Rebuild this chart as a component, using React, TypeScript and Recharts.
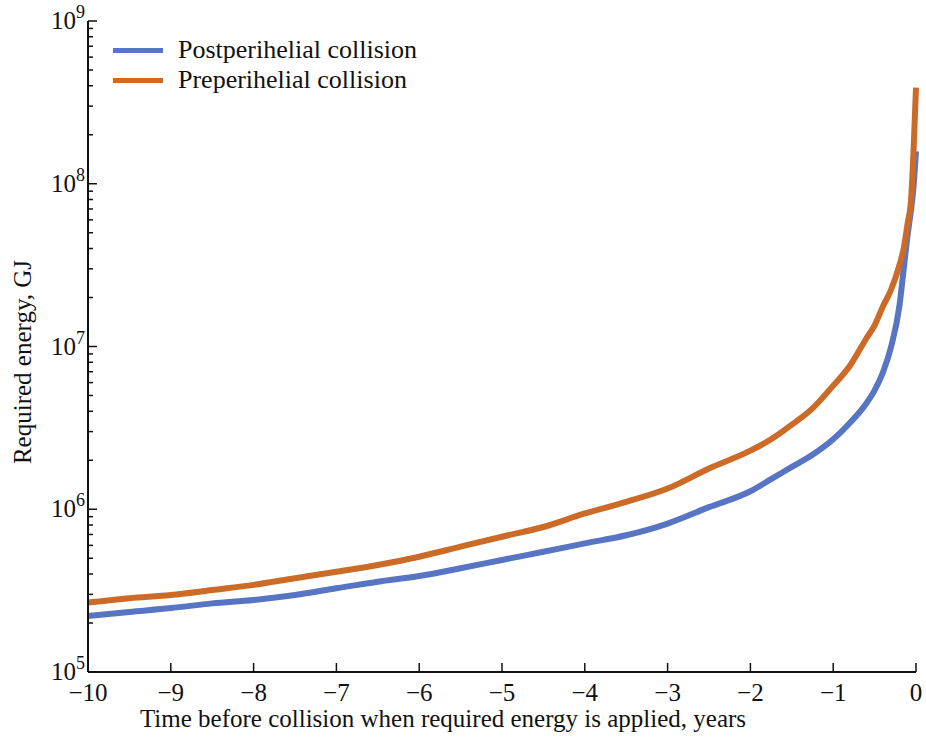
import React from 'react';
import { LineChart, Line, XAxis, YAxis, Legend } from 'recharts';

// Time before collision, years
const years = [
  -10, -9.5, -9, -8.5, -8, -7.5, -7, -6.5, -6, -5.5, -5, -4.5, -4, -3.5, -3, -2.5,
  -2, -1.75, -1.5, -1.25, -1, -0.8, -0.6, -0.5, -0.4, -0.3, -0.2, -0.15, -0.1, -0.06, -0.03, 0,
];

// Required energy, GJ — collision after perihelion
const postperihelial = [
  2.21e5, 2.34e5, 2.47e5, 2.64e5, 2.77e5, 2.97e5, 3.27e5, 3.59e5, 3.89e5, 4.34e5, 4.88e5, 5.48e5,
  6.17e5, 6.92e5, 8.17e5, 1.03e6, 1.29e6, 1.53e6, 1.82e6, 2.16e6, 2.69e6, 3.39e6, 4.47e6, 5.37e6,
  6.92e6, 1.0e7, 1.78e7, 2.95e7, 4.9e7, 6.92e7, 9.55e7, 1.58e8,
];

// Required energy, GJ — collision before perihelion
const preperihelial = [
  2.67e5, 2.84e5, 2.97e5, 3.19e5, 3.43e5, 3.77e5, 4.13e5, 4.54e5, 5.11e5, 5.89e5, 6.78e5, 7.78e5,
  9.42e5, 1.11e6, 1.34e6, 1.78e6, 2.29e6, 2.69e6, 3.31e6, 4.17e6, 5.75e6, 7.59e6, 1.12e7, 1.35e7,
  1.76e7, 2.24e7, 3.16e7, 3.98e7, 5.75e7, 7.94e7, 1.58e8, 3.89e8,
];

const seriesNames = ['Postperihelial collision', 'Preperihelial collision'];
const yearTicks = [-10, -9, -8, -7, -6, -5, -4, -3, -2, -1, 0];
const decadeExponents = [5, 6, 7, 8, 9];
const minorMultipliers = [2, 3, 4, 5, 6, 7, 8, 9];

const energyTicks: number[] = [];
decadeExponents.forEach((e, i) => {
  energyTicks.push(Math.pow(10, e));
  if (i < decadeExponents.length - 1) {
    minorMultipliers.forEach((m) => energyTicks.push(m * Math.pow(10, e)));
  }
});

const data = years.map((t, i) => ({ t, post: postperihelial[i], pre: preperihelial[i] }));

const BLUE = '#5875C4';
const ORANGE = '#CC6A28';
const INK = '#111111';
const FONT = '"Liberation Serif", "Times New Roman", Times, serif';

const isMajor = (v: number) => {
  const e = Math.round(Math.log10(v));
  return Math.abs(v - Math.pow(10, e)) < v * 1e-6;
};

const fmtYear = (v: number) => (v < 0 ? `\u2212${Math.abs(v)}` : `${v}`);

// Inward-pointing ticks with labels below the frame
function BottomTick(props: any) {
  const { x, y, payload } = props;
  return (
    <g>
      <line x1={x} y1={y} x2={x} y2={y - 9} stroke={INK} strokeWidth={1.5} />
      <text x={x} y={y + 29} textAnchor="middle" fontFamily={FONT} fontSize={25} fill={INK}>
        {fmtYear(payload.value)}
      </text>
    </g>
  );
}

function TopTick(props: any) {
  const { x, y } = props;
  return <line x1={x} y1={y} x2={x} y2={y + 9} stroke={INK} strokeWidth={1.5} />;
}

function LeftTick(props: any) {
  const { x, y, payload } = props;
  const v = payload.value as number;
  const major = isMajor(v);
  const exp = Math.round(Math.log10(v));
  return (
    <g>
      <line x1={x} y1={y} x2={x + (major ? 9 : 5)} y2={y} stroke={INK} strokeWidth={1.5} />
      {major && (
        <text x={x - 3} y={y + 8} textAnchor="end" fontFamily={FONT} fontSize={25} fill={INK}>
          10
          <tspan dy={-11} fontSize={18}>
            {exp}
          </tspan>
        </text>
      )}
    </g>
  );
}

function RightTick(props: any) {
  const { x, y, payload } = props;
  const major = isMajor(payload.value as number);
  return <line x1={x} y1={y} x2={x - (major ? 9 : 5)} y2={y} stroke={INK} strokeWidth={1.5} />;
}

function XTitle(_props: any) {
  return (
    <text x={443} y={727} textAnchor="middle" fontFamily={FONT} fontSize={25} fill={INK}>
      Time before collision when required energy is applied, years
    </text>
  );
}

function YTitle(_props: any) {
  return (
    <text
      x={0}
      y={0}
      transform="translate(31 362) rotate(-90)"
      textAnchor="middle"
      fontFamily={FONT}
      fontSize={25}
      fill={INK}
    >
      Required energy, GJ
    </text>
  );
}

function SeriesKey() {
  const items = [
    { name: seriesNames[0], color: BLUE },
    { name: seriesNames[1], color: ORANGE },
  ];
  return (
    <div style={{ fontFamily: FONT, fontSize: 26, color: INK, lineHeight: '30px' }}>
      {items.map((it) => (
        <div key={it.name} style={{ display: 'flex', alignItems: 'center', height: 30 }}>
          <span
            style={{ display: 'inline-block', width: 50, height: 5, background: it.color, marginRight: 15 }}
          />
          <span>{it.name}</span>
        </div>
      ))}
    </div>
  );
}

const axisLine = { stroke: INK, strokeWidth: 2 };

export default function App() {
  return (
    <div style={{ position: 'absolute', left: 0, top: 0, background: '#fff' }}>
      <LineChart width={926} height={742} data={data} margin={{ top: 21, right: 10, bottom: 0, left: 0 }}>
        <XAxis
          dataKey="t"
          type="number"
          domain={[-10, 0]}
          ticks={yearTicks}
          interval={0}
          height={70}
          tickSize={0}
          tickMargin={0}
          tickLine={false}
          axisLine={axisLine}
          tick={<BottomTick />}
          label={<XTitle />}
        />
        <XAxis
          xAxisId="top"
          orientation="top"
          dataKey="t"
          type="number"
          domain={[-10, 0]}
          ticks={yearTicks}
          interval={0}
          height={0}
          tickSize={0}
          tickMargin={0}
          tickLine={false}
          axisLine={axisLine}
          tick={<TopTick />}
        />
        <YAxis
          scale="log"
          type="number"
          domain={[1e5, 1e9]}
          ticks={energyTicks}
          interval={0}
          width={88}
          tickSize={0}
          tickMargin={0}
          tickLine={false}
          axisLine={axisLine}
          tick={<LeftTick />}
          allowDataOverflow
          label={<YTitle />}
        />
        <YAxis
          yAxisId="right"
          orientation="right"
          scale="log"
          type="number"
          domain={[1e5, 1e9]}
          ticks={energyTicks}
          interval={0}
          width={0}
          tickSize={0}
          tickMargin={0}
          tickLine={false}
          axisLine={axisLine}
          tick={<RightTick />}
          allowDataOverflow
        />
        <Legend
          layout="vertical"
          align="center"
          verticalAlign="middle"
          content={<SeriesKey />}
          wrapperStyle={{ left: 113, top: 35, width: 320 }}
        />
        <Line
          dataKey="post"
          name={seriesNames[0]}
          type="monotone"
          stroke={BLUE}
          strokeWidth={6}
          dot={false}
          isAnimationActive={false}
        />
        <Line
          dataKey="pre"
          name={seriesNames[1]}
          type="monotone"
          stroke={ORANGE}
          strokeWidth={6}
          dot={false}
          isAnimationActive={false}
        />
      </LineChart>
    </div>
  );
}
